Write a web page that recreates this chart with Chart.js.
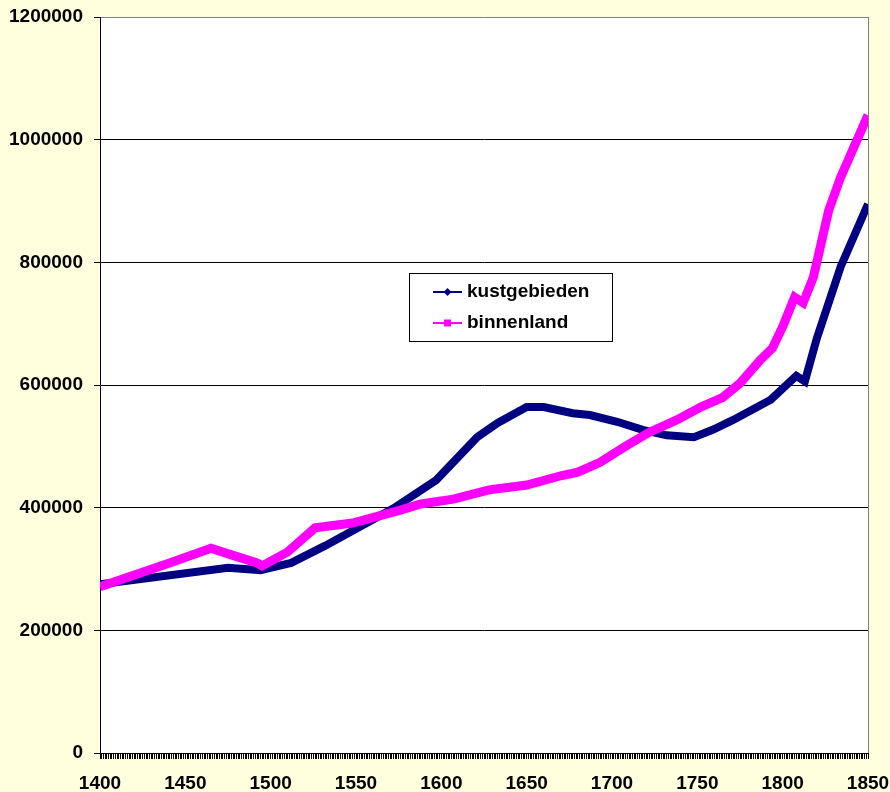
<!DOCTYPE html>
<html>
<head>
<meta charset="utf-8">
<script src="https://cdn.jsdelivr.net/npm/chart.js@4/dist/chart.umd.min.js"></script>
<style>
  html, body { margin: 0; padding: 0; background: #FFFFDD; }
  #wrap { width: 890px; height: 792px; }
</style>
</head>
<body>
<div id="wrap"><canvas id="chart" width="890" height="792"></canvas></div>
<script>
// kustgebieden (coastal provinces) - years and population
const coastYears = [1400, 1475, 1494, 1512, 1532, 1572, 1597, 1621, 1633, 1650, 1660, 1677, 1687, 1703, 1718, 1732, 1748, 1759, 1771, 1793, 1808, 1813, 1820, 1834, 1850];
const coastPop   = [275000, 302000, 298000, 310000, 338000, 399000, 445000, 515000, 538000, 564000, 564000, 554000, 551000, 540000, 527000, 518000, 515000, 527000, 543000, 576000, 615000, 606000, 676000, 793000, 895000];

// binnenland (inland provinces)
const inlandYears = [1400, 1442, 1465, 1477, 1492, 1495, 1510, 1526, 1548, 1576, 1588, 1607, 1628, 1650, 1670, 1680, 1693, 1709, 1722, 1738, 1752, 1765, 1775, 1787, 1794, 1800, 1807, 1812, 1818, 1827, 1834, 1850];
const inlandPop   = [271000, 311000, 334000, 323000, 310000, 305000, 328000, 367000, 375000, 396000, 406000, 414000, 429000, 437000, 452000, 458000, 474000, 502000, 523000, 543000, 564000, 580000, 603000, 641000, 660000, 695000, 743000, 734000, 776000, 885000, 939000, 1040000];

const yTicks = [0, 200000, 400000, 600000, 800000, 1000000, 1200000];
const seriesNames = ['kustgebieden', 'binnenland'];

const FONT = "'Liberation Sans', Arial, sans-serif";
const NAVY = '#000080';
const MAGENTA = '#FF00FF';

function toPoints(xs, ys) {
    return xs.map((x, i) => ({x: x, y: ys[i]}));
}

// white plot area behind the lines
const plotBg = {
    id: 'plotBg',
    beforeDraw(chart) {
        const {ctx, chartArea: a} = chart;
        ctx.save();
        ctx.fillStyle = '#FFFFFF';
        ctx.fillRect(a.left, a.top, a.right - a.left, a.bottom - a.top);
        ctx.strokeStyle = '#808080';
        ctx.lineWidth = 1;
        ctx.beginPath();
        ctx.moveTo(a.right + 0.5, a.top);
        ctx.lineTo(a.right + 0.5, a.bottom);
        ctx.stroke();
        ctx.restore();
    }
};

// boxed legend sitting inside the plot area
const boxLegend = {
    id: 'boxLegend',
    afterDraw(chart) {
        const ctx = chart.ctx;
        const bx = 409, by = 273, bw = 203, bh = 68;
        ctx.save();
        ctx.fillStyle = '#FFFFFF';
        ctx.fillRect(bx, by, bw, bh);
        ctx.strokeStyle = '#000000';
        ctx.lineWidth = 1;
        ctx.strokeRect(bx + 0.5, by + 0.5, bw, bh);
        const rows = [
            {y: 292, color: NAVY, shape: 'diamond'},
            {y: 323, color: MAGENTA, shape: 'square'}
        ];
        rows.forEach((r, i) => {
            ctx.strokeStyle = r.color;
            ctx.lineWidth = 2;
            ctx.beginPath();
            ctx.moveTo(433, r.y);
            ctx.lineTo(462, r.y);
            ctx.stroke();
            ctx.fillStyle = r.color;
            const cx = 447.5;
            if (r.shape === 'diamond') {
                ctx.beginPath();
                ctx.moveTo(cx, r.y - 4);
                ctx.lineTo(cx + 4, r.y);
                ctx.lineTo(cx, r.y + 4);
                ctx.lineTo(cx - 4, r.y);
                ctx.closePath();
                ctx.fill();
            } else {
                ctx.fillRect(cx - 3.5, r.y - 3.5, 7, 7);
            }
            ctx.fillStyle = '#000000';
            ctx.font = 'bold 19px ' + FONT;
            ctx.textBaseline = 'middle';
            ctx.textAlign = 'left';
            ctx.fillText(seriesNames[i], 467, r.y);
        });
        ctx.restore();
    }
};

new Chart(document.getElementById('chart'), {
    type: 'line',
    data: {
        datasets: [
            {
                label: seriesNames[0],
                data: toPoints(coastYears, coastPop),
                borderColor: NAVY,
                backgroundColor: NAVY,
                borderWidth: 8,
                pointRadius: 0,
                tension: 0,
                order: 1
            },
            {
                label: seriesNames[1],
                data: toPoints(inlandYears, inlandPop),
                borderColor: MAGENTA,
                backgroundColor: MAGENTA,
                borderWidth: 9,
                pointRadius: 0,
                tension: 0,
                order: 0
            }
        ]
    },
    options: {
        responsive: false,
        animation: false,
        layout: { padding: { top: 17, right: 22, left: 0, bottom: 0 } },
        plugins: {
            legend: { display: false },
            tooltip: { enabled: false }
        },
        scales: {
            x: {
                type: 'linear',
                min: 1400,
                max: 1850,
                afterFit(scale) {
                    scale.height = 39;
                    scale.paddingLeft = 0;
                    scale.paddingRight = 0;
                },
                grid: {
                    drawOnChartArea: false,
                    drawTicks: true,
                    tickLength: 6,
                    tickColor: '#000000',
                    lineWidth: 1
                },
                border: { color: '#000000', width: 1 },
                ticks: {
                    stepSize: 1,
                    autoSkip: false,
                    maxRotation: 0,
                    minRotation: 0,
                    padding: 13,
                    color: '#000000',
                    font: { family: FONT, size: 19, weight: 'bold' },
                    callback: (v) => (v % 50 === 0 ? String(v) : '')
                }
            },
            y: {
                min: yTicks[0],
                max: yTicks[yTicks.length - 1],
                afterFit(scale) {
                    scale.width = 100;
                    scale.paddingTop = 0;
                    scale.paddingBottom = 0;
                },
                afterBuildTicks(scale) { scale.ticks = yTicks.map(v => ({value: v})); },
                grid: {
                    color: (c) => (c.tick && c.tick.value === 1200000 ? '#808080' : '#000000'),
                    lineWidth: 1,
                    tickLength: 6,
                    tickColor: '#000000'
                },
                border: { color: '#000000', width: 1 },
                ticks: {
                    padding: 11,
                    color: '#000000',
                    font: { family: FONT, size: 19, weight: 'bold' },
                    callback: (v) => String(v)
                }
            }
        }
    },
    plugins: [plotBg, boxLegend]
});
</script>
</body>
</html>
